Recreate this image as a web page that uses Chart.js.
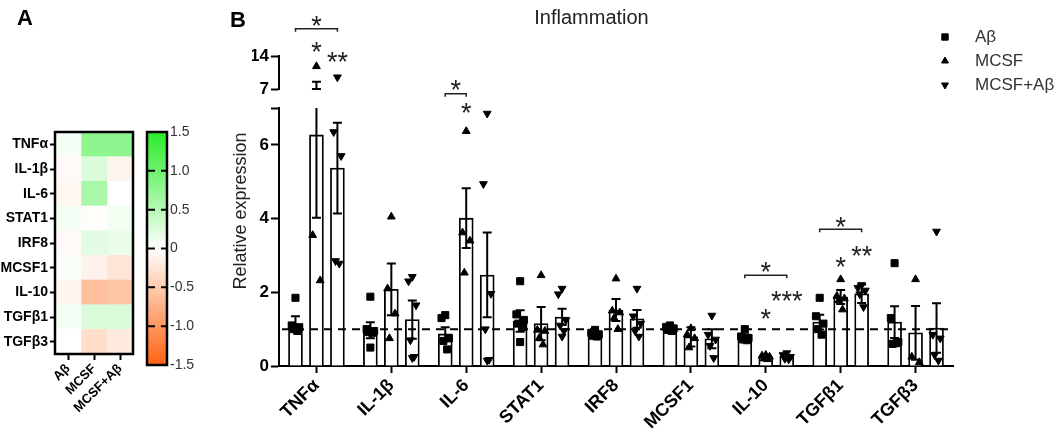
<!DOCTYPE html>
<html><head><meta charset="utf-8">
<script src="https://cdn.jsdelivr.net/npm/chart.js@4.4.1/dist/chart.umd.min.js"></script>
<style>
html,body{margin:0;padding:0;background:#fff;}
#wrap{position:relative;width:1060px;height:437px;overflow:hidden;font-family:"Liberation Sans",Arial,sans-serif;}
canvas{position:absolute;top:0;}
.panel{position:absolute;font-weight:bold;font-size:22px;line-height:22px;color:#000;}
</style></head><body>
<div id="wrap">
<canvas id="heat" width="140" height="437" style="left:0"></canvas>
<canvas id="cbar" width="64" height="437" style="left:138px"></canvas>
<canvas id="bars" width="866" height="437" style="left:194px"></canvas>
<div class="panel" style="left:17px;top:7px">A</div>
<div class="panel" style="left:230px;top:9px">B</div>
</div>
<script>
const FONT = '"Liberation Sans", Arial, sans-serif';
Chart.defaults.font.family = FONT;
Chart.defaults.color = '#000';

// ---------- data ----------
const categories = ['TNFα','IL-1β','IL-6','STAT1','IRF8','MCSF1','IL-10','TGFβ1','TGFβ3'];
const seriesNames = ['Aβ','MCSF','MCSF+Aβ'];

const meanAb     = [1.15, 0.97, 0.87, 1.22, 0.88, 1.05, 0.80, 1.19, 1.19];
const meanMcsf   = [6.27, 2.08, 4.01, 1.15, 1.52, 0.79, 0.25, 1.87, 0.90];
const meanMcsfAb = [5.37, 1.26, 2.47, 1.33, 1.28, 0.74, 0.26, 1.96, 1.03];

const semAb      = [0.20, 0.22, 0.18, 0.29, 0.07, 0.05, 0.06, 0.20, 0.43];
const semMcsf    = [2.25, 0.70, 0.81, 0.45, 0.30, 0.26, 0.03, 0.19, 0.73];
const semMcsfAb  = [1.23, 0.52, 1.15, 0.22, 0.24, 0.26, 0.04, 0.25, 0.67];

const ptsAb = [
  [1.85, 1.10, 1.05, 1.00, 0.95],
  [1.88, 1.00, 0.95, 0.92, 0.90, 0.50],
  [1.38, 1.30, 0.75, 0.68, 0.45],
  [2.30, 1.40, 1.25, 1.15, 1.05, 0.65],
  [0.98, 0.90, 0.86, 0.82, 0.80],
  [1.10, 1.06, 1.02, 0.98, 0.95],
  [1.00, 0.80, 0.76, 0.72, 0.70],
  [1.85, 1.35, 1.15, 1.00, 0.85],
  [2.79, 1.30, 0.65, 0.60, 0.62]
];
const ptsMcsf = [
  [11.8, 3.55, 2.32],
  [4.05, 2.10, 1.42, 0.75],
  [6.37, 3.62, 3.40, 2.53],
  [2.46, 0.98, 0.95, 0.76, 0.58],
  [2.37, 1.50, 1.45, 1.30, 1.00],
  [1.02, 0.85, 0.75, 0.50],
  [0.30, 0.28, 0.25, 0.20, 0.18],
  [2.35, 1.90, 1.83, 1.78, 1.53],
  [2.35, 0.25, 0.10]
];
const ptsMcsfAb = [
  [9.5, 6.35, 5.70, 2.85, 2.78],
  [2.42, 2.30, 1.65, 0.70, 0.25, 0.22],
  [6.85, 4.94, 1.96, 1.00, 0.17, 0.15],
  [2.10, 1.95, 1.25, 1.10, 0.95, 0.80],
  [2.10, 1.35, 1.15, 0.95, 0.80],
  [1.37, 0.85, 0.72, 0.55, 0.22],
  [0.35, 0.30, 0.25, 0.20, 0.18],
  [2.20, 2.12, 2.05, 1.95, 1.60],
  [3.65, 0.85, 0.75, 0.30, 0.15]
];

const yLowTicks = [0, 2, 4, 6, 7];
const yTopTicks = [7, 14];
const axisBreak = 7;
const refLine = 1;

// significance marks (y in lower-axis units)
const sigBrackets = [
  {cat: 0, from: 0, to: 2, y: 9.15, label: '*', labelY: 9.40},
  {cat: 2, from: 0, to: 1, y: 7.39, label: '*', labelY: 7.66},
  {cat: 6, from: 0, to: 2, y: 2.46, label: '*', labelY: 2.72},
  {cat: 7, from: 0, to: 2, y: 3.71, label: '*', labelY: 3.94}
];
const sigStars = [
  {cat: 0, series: 1, label: '*',   y: 8.70},
  {cat: 0, series: 2, label: '**',  y: 8.43},
  {cat: 2, series: 1, label: '*',   y: 7.03},
  {cat: 6, series: 1, label: '*',   y: 1.46},
  {cat: 6, series: 2, label: '***', y: 1.94},
  {cat: 7, series: 1, label: '*',   y: 2.85},
  {cat: 7, series: 2, label: '**',  y: 3.17}
];

// heatmap (panel A)
const heatCols = ['Aβ','MCSF','MCSF+Aβ'];
const heatAb     = [0.08, -0.05, -0.08, 0.07, -0.05, 0.04, -0.10, 0.07, 0.00];
const heatMcsf   = [0.78, 0.25, 0.60, -0.02, 0.20, -0.12, -0.62, 0.25, -0.32];
const heatMcsfAb = [0.78, -0.10, 0.00, 0.10, 0.15, -0.25, -0.55, 0.25, -0.20];
const cbMin = -1.5, cbMax = 1.5;
const cbTicks = [1.5, 1.0, 0.5, 0, -0.5, -1.0, -1.5];
const cbTickLabels = ['1.5','1.0','0.5','0','-0.5','-1.0','-1.5'];
const cbInnerTicks = [1.0, 0.5, 0, -0.5, -1.0];

// ---------- styles ----------
const GREEN = [40, 236, 40], ORANGE = [255, 98, 16];
function heatColor(v) {
  const t = Math.min(Math.abs(v) / cbMax, 1);
  const e = v >= 0 ? GREEN : ORANGE;
  const c = e.map(x => Math.round(255 + (x - 255) * t));
  return 'rgb(' + c.join(',') + ')';
}

// ---------- Panel A heatmap ----------
const heatSeries = [heatAb, heatMcsf, heatMcsfAb];
new Chart(document.getElementById('heat'), {
  type: 'bar',
  data: {
    labels: categories,
    datasets: heatSeries.map((z, k) => ({
      label: heatCols[k],
      data: z.map(() => 1),
      backgroundColor: z.map(heatColor),
      borderWidth: 0, barPercentage: 1, categoryPercentage: 1
    }))
  },
  options: {
    indexAxis: 'y', responsive: false, animation: false, events: [],
    layout: {padding: {top: 132, right: 7, left: 0, bottom: 0}},
    plugins: {legend: {display: false}, tooltip: {enabled: false}},
    scales: {
      x: {
        type: 'linear', stacked: true, min: 0, max: 3,
        afterBuildTicks: s => { s.ticks = heatCols.map((_, k) => ({value: k + 0.5})); },
        afterFit: s => { s.height = 83; },
        ticks: {callback: v => heatCols[Math.floor(v)], minRotation: 45, maxRotation: 45,
                autoSkip: false, font: {size: 13, weight: 'bold'}, color: '#000', padding: 1},
        grid: {display: true, drawOnChartArea: false, drawTicks: true, tickLength: 6, tickWidth: 2, tickColor: '#000'},
        border: {display: false}
      },
      y: {
        stacked: true,
        afterFit: s => { s.width = 55; },
        ticks: {font: {size: 14, weight: 'bold'}, color: '#000', padding: 2, autoSkip: false},
        grid: {offset: false, display: true, drawOnChartArea: false, drawTicks: true, tickLength: 5, tickWidth: 2, tickColor: '#000'},
        border: {display: false}
      }
    }
  },
  plugins: [{id: 'frame', afterDatasetsDraw(c) {
    const a = c.chartArea, x = c.ctx;
    x.save(); x.lineWidth = 2.5; x.strokeStyle = '#000';
    x.strokeRect(a.left, a.top, a.width, a.height); x.restore();
  }}]
});

// ---------- Panel A colour bar ----------
new Chart(document.getElementById('cbar'), {
  type: 'bar',
  data: {labels: [''], datasets: [{
    data: [[cbMin, cbMax]],
    backgroundColor: ctx => {
      const area = ctx.chart.chartArea;
      if (!area || !isFinite(area.top) || !isFinite(area.bottom) || area.bottom <= area.top) return '#ffffff';
      const g = ctx.chart.ctx.createLinearGradient(0, area.top, 0, area.bottom);
      g.addColorStop(0, 'rgb(' + GREEN.join(',') + ')');
      g.addColorStop(0.5, '#ffffff');
      g.addColorStop(1, 'rgb(' + ORANGE.join(',') + ')');
      return g;
    },
    borderWidth: 0, barPercentage: 1, categoryPercentage: 1
  }]},
  options: {
    responsive: false, animation: false, events: [],
    layout: {padding: {left: 9, top: 132, bottom: 72, right: 0}},
    plugins: {legend: {display: false}, tooltip: {enabled: false}},
    scales: {
      x: {display: false},
      y: {
        position: 'right', min: cbMin, max: cbMax,
        afterBuildTicks: s => { s.ticks = cbTicks.map(v => ({value: v})); },
        afterFit: s => { s.width = 35; },
        ticks: {callback: v => cbTickLabels[cbTicks.indexOf(v)], font: {size: 14}, color: '#333', padding: 3, autoSkip: false},
        grid: {display: false, drawTicks: false}, border: {display: false}
      }
    }
  },
  plugins: [{id: 'cbframe', afterDatasetsDraw(c) {
    const a = c.chartArea, x = c.ctx, y = c.scales.y;
    x.save(); x.lineWidth = 2.5; x.strokeStyle = '#000';
    x.strokeRect(a.left, a.top, a.width, a.height);
    x.lineWidth = 2;
    cbInnerTicks.forEach(v => {
      const py = y.getPixelForValue(v);
      x.beginPath();
      x.moveTo(a.left, py); x.lineTo(a.left + 8, py);
      x.moveTo(a.right - 6, py); x.lineTo(a.right, py);
      x.stroke();
    });
    x.restore();
  }}]
});

// ---------- Panel B bar chart ----------
const meanSeries = [meanAb, meanMcsf, meanMcsfAb];
const semSeries = [semAb, semMcsf, semMcsfAb];
const ptSeries = [ptsAb, ptsMcsf, ptsMcsfAb];
const ptStyles = [
  {pointStyle: 'rect', rotation: 0, radius: 5},
  {pointStyle: 'triangle', rotation: 0, radius: 4.5},
  {pointStyle: 'triangle', rotation: 180, radius: 4.5}
];
const seriesShift = [-0.28, 0, 0.28];     // position of each series inside a category group
const jitter = [0, -0.05, 0.05, -0.025, 0.025, 0];

const barDatasets = meanSeries.map((m, s) => ({
  type: 'bar', label: seriesNames[s],
  data: m.map((v, i) => ({x: i + seriesShift[s], y: v})),
  backgroundColor: '#fff', borderColor: '#000', borderWidth: 1.8,
  barThickness: 14, grouped: false,
  xAxisID: 'xPts', yAxisID: 'yLow', order: 2
}));
function pointData(s, upper) {
  const out = [];
  ptSeries[s].forEach((vals, i) => vals.forEach((v, j) => {
    if ((v > axisBreak) === upper) out.push({x: i + seriesShift[s] + jitter[j % jitter.length], y: v});
  }));
  return out;
}
const pointDatasets = [];
seriesNames.forEach((n, s) => {
  [false, true].forEach(up => pointDatasets.push({
    type: 'scatter', label: n, data: pointData(s, up),
    xAxisID: 'xPts', yAxisID: up ? 'yTop' : 'yLow',
    pointStyle: ptStyles[s].pointStyle, pointRotation: ptStyles[s].rotation,
    pointRadius: ptStyles[s].radius, backgroundColor: '#000', borderColor: '#000', borderWidth: 1,
    order: 1
  }));
});

function drawMarker(ctx, style, x, y, r) {
  ctx.beginPath();
  if (style.pointStyle === 'rect') {
    const h = r * Math.SQRT1_2;
    ctx.rect(x - h, y - h, 2 * h, 2 * h);
  } else {
    const dir = style.rotation === 180 ? -1 : 1;
    const sx = r * Math.sqrt(3) / 2;
    ctx.moveTo(x, y - dir * r);
    ctx.lineTo(x + sx, y + dir * r / 2);
    ctx.lineTo(x - sx, y + dir * r / 2);
    ctx.closePath();
  }
  ctx.fill(); ctx.stroke();
}

const extras = {
  id: 'extras',
  afterDatasetsDraw(chart) {
    const ctx = chart.ctx, a = chart.chartArea, yL = chart.scales.yLow, yT = chart.scales.yTop;
    ctx.save();
    // reference line
    ctx.strokeStyle = '#000'; ctx.lineWidth = 2; ctx.setLineDash([8, 6]);
    ctx.beginPath(); const ry = yL.getPixelForValue(refLine);
    ctx.moveTo(a.left + 3, ry); ctx.lineTo(a.right, ry); ctx.stroke();
    ctx.setLineDash([]);
    // error bars
    const cap = 4.5;
    meanSeries.forEach((m, s) => {
      const meta = chart.getDatasetMeta(s);
      m.forEach((mv, i) => {
        const x = meta.data[i].x, lo = mv - semSeries[s][i], hi = mv + semSeries[s][i];
        ctx.beginPath();
        const pLo = yL.getPixelForValue(lo);
        ctx.moveTo(x - cap, pLo); ctx.lineTo(x + cap, pLo);
        if (hi <= axisBreak) {
          const pHi = yL.getPixelForValue(hi);
          ctx.moveTo(x, pLo); ctx.lineTo(x, pHi);
          ctx.moveTo(x - cap, pHi); ctx.lineTo(x + cap, pHi);
        } else {
          ctx.moveTo(x, pLo); ctx.lineTo(x, yL.getPixelForValue(axisBreak));
          const p7 = yT.getPixelForValue(axisBreak), pHi = yT.getPixelForValue(hi);
          ctx.moveTo(x - cap, p7); ctx.lineTo(x + cap, p7);
          ctx.moveTo(x, p7); ctx.lineTo(x, pHi);
          ctx.moveTo(x - cap, pHi); ctx.lineTo(x + cap, pHi);
        }
        ctx.stroke();
      });
    });
    // significance
    const starSize = 27;
    ctx.font = starSize + 'px ' + FONT; ctx.fillStyle = '#222'; ctx.textAlign = 'center'; ctx.textBaseline = 'alphabetic';
    ctx.strokeStyle = '#222'; ctx.lineWidth = 1.5;
    sigBrackets.forEach(b => {
      const x1 = chart.getDatasetMeta(b.from).data[b.cat].x, x2 = chart.getDatasetMeta(b.to).data[b.cat].x;
      const py = yL.getPixelForValue(b.y);
      ctx.beginPath(); ctx.moveTo(x1, py + 3); ctx.lineTo(x1, py); ctx.lineTo(x2, py); ctx.lineTo(x2, py + 3); ctx.stroke();
      ctx.fillText(b.label, (x1 + x2) / 2, yL.getPixelForValue(b.labelY) + 0.57 * starSize);
    });
    sigStars.forEach(st => {
      const x = chart.getDatasetMeta(st.series).data[st.cat].x;
      ctx.fillText(st.label, x, yL.getPixelForValue(st.y) + 0.57 * starSize);
    });
    // legend
    const lx = 751, tx = 781, ly = [37, 61, 85];
    seriesNames.forEach((n, s) => {
      ctx.fillStyle = '#000'; ctx.strokeStyle = '#000'; ctx.lineWidth = 1;
      drawMarker(ctx, ptStyles[s], lx, ly[s], ptStyles[s].radius - 0.5);
      ctx.fillStyle = '#333'; ctx.font = '17px ' + FONT; ctx.textAlign = 'left'; ctx.textBaseline = 'middle';
      ctx.fillText(n, tx, ly[s]);
    });
    ctx.restore();
  }
};

const yTickFont = {size: 17, weight: 'bold'};
const yGrid = {display: true, drawOnChartArea: false, drawTicks: true, tickLength: 8, tickWidth: 2, tickColor: '#000'};
new Chart(document.getElementById('bars'), {
  type: 'bar',
  data: {labels: categories, datasets: [...barDatasets, ...pointDatasets]},
  options: {
    responsive: false, animation: false, events: [],
    layout: {padding: {left: 36, right: 107, top: 0, bottom: 0}},
    plugins: {
      legend: {display: false}, tooltip: {enabled: false},
      title: {display: true, text: 'Inflammation', font: {size: 20, weight: 'normal'}, color: '#222', padding: {top: 6, bottom: 26}}
    },
    scales: {
      x: {
        type: 'category', position: 'bottom', offset: true,
        grid: {offset: false, display: true, drawOnChartArea: false, drawTicks: true, tickLength: 7, tickWidth: 2, tickColor: '#000'},
        border: {display: true, color: '#000', width: 2},
        ticks: {font: {size: 18, weight: 'bold'}, color: '#000', minRotation: 45, maxRotation: 45, autoSkip: false, padding: 2},
        afterFit: s => { s.height = 71; }
      },
      xPts: {type: 'linear', display: false, offset: false, min: -0.5, max: categories.length - 0.5},
      yTitle: {
        type: 'linear', position: 'left', weight: 10,
        ticks: {display: false}, grid: {display: false}, border: {display: false},
        title: {display: true, text: 'Relative expression', font: {size: 18}, color: '#222', padding: 0},
        afterFit: s => { s.width = 22; }
      },
      yTop: {
        type: 'linear', position: 'left', stack: 'yb', stackWeight: 33, weight: 3, min: 7, max: 14,
        afterBuildTicks: s => { s.ticks = yTopTicks.map(v => ({value: v})); },
        ticks: {font: yTickFont, color: '#000', padding: 2, autoSkip: false, callback: v => String(v)},
        grid: yGrid, border: {display: true, color: '#000', width: 2},
        afterFit: s => { s.width = 27; }
      },
      yGap: {type: 'linear', position: 'left', stack: 'yb', stackWeight: 19, weight: 2, display: false},
      yLow: {
        type: 'linear', position: 'left', stack: 'yb', stackWeight: 258, weight: 1, min: 0, max: 7,
        afterBuildTicks: s => { s.ticks = yLowTicks.map(v => ({value: v})); },
        ticks: {font: yTickFont, color: '#000', padding: 2, autoSkip: false, callback: v => (v === axisBreak ? '' : String(v))},
        grid: yGrid, border: {display: true, color: '#000', width: 2},
        afterFit: s => { s.width = 27; }
      }
    }
  },
  plugins: [extras]
});
</script>
</body></html>
